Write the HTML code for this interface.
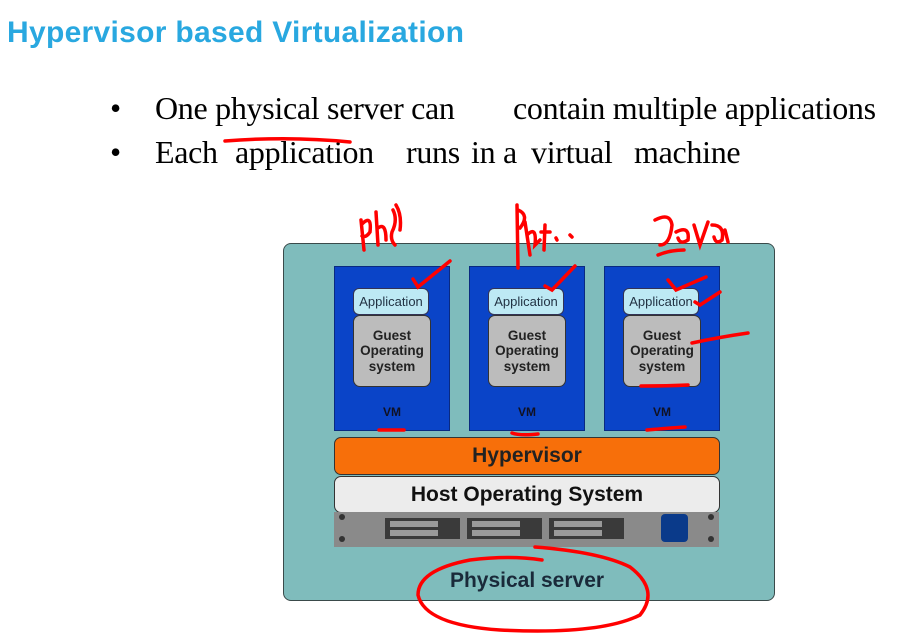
<!DOCTYPE html>
<html><head><meta charset="utf-8"><style>
body{margin:0;width:921px;height:643px;background:#fff;position:relative;overflow:hidden;font-family:"Liberation Sans",sans-serif}
.a{position:absolute}
h1{position:absolute;left:7px;top:16px;margin:0;font:bold 30px "Liberation Sans",sans-serif;letter-spacing:0.3px;color:#29a8e0}
.b{position:absolute;font:32px "Liberation Serif",serif;color:#000;white-space:pre;line-height:34px;letter-spacing:-0.3px}
.vm{position:absolute;top:266px;width:114px;height:163px;background:#0a44c8;border:1px solid #0a2a80}
.app{position:absolute;left:18px;top:21px;width:74px;height:25px;background:#bde9f4;border:1px solid #335;border-radius:6px;font-size:13px;color:#234;text-align:center;line-height:25px}
.gos{position:absolute;left:18px;top:48px;width:76px;height:70px;background:#bcbcbc;border:1px solid #333;border-radius:7px;font-weight:bold;font-size:13.5px;font-family:"Liberation Sans",sans-serif;line-height:15.5px;color:#222;text-align:center;display:flex;align-items:center;justify-content:center}
.vl{position:absolute;left:0;width:100%;top:138px;text-align:center;font-weight:bold;font-size:12px;color:#112}
.bar{position:absolute;left:334px;width:384px;border:1.5px solid #333;border-radius:7px;text-align:center;font-family:"Liberation Sans",sans-serif;font-weight:bold;color:#222}
</style></head><body>
<h1>Hypervisor based Virtualization</h1>
<div class="b" style="left:110px;top:91px">•</div>
<div class="b" style="left:155px;top:91px">One physical server can</div>
<div class="b" style="left:513px;top:91px">contain multiple applications</div>
<div class="b" style="left:110px;top:135px">•</div>
<div class="b" style="left:155px;top:135px">Each</div>
<div class="b" style="left:235px;top:135px">application</div>
<div class="b" style="left:406px;top:135px">runs</div>
<div class="b" style="left:471px;top:135px">in a</div>
<div class="b" style="left:531px;top:135px">virtual</div>
<div class="b" style="left:634px;top:135px">machine</div>

<div class="a" style="left:283px;top:243px;width:490px;height:356px;background:#7fbcbc;border:1.5px solid #3a4a4a;border-radius:8px"></div>
<div class="vm" style="left:334px"><div class="app">Application</div><div class="gos">Guest<br>Operating<br>system</div><div class="vl">VM</div></div>
<div class="vm" style="left:469px"><div class="app">Application</div><div class="gos">Guest<br>Operating<br>system</div><div class="vl">VM</div></div>
<div class="vm" style="left:604px"><div class="app">Application</div><div class="gos">Guest<br>Operating<br>system</div><div class="vl">VM</div></div>
<div class="bar" style="top:437px;height:36px;line-height:36px;background:#f76f0a;font-size:21px">Hypervisor</div>
<div class="bar" style="top:476px;height:35px;line-height:35px;background:#ececec;font-size:21px;color:#111">Host Operating System</div>
<svg class="a" style="left:0;top:0" width="921" height="643">
<rect x="334" y="512" width="385" height="35" fill="#8a8a8a"/>
<g fill="#3a3a3a"><rect x="385" y="518" width="75" height="21"/><rect x="467" y="518" width="75" height="21"/><rect x="549" y="518" width="75" height="21"/></g>
<g fill="#9a9a9a"><rect x="390" y="521" width="48" height="6"/><rect x="390" y="530" width="48" height="6"/><rect x="472" y="521" width="48" height="6"/><rect x="472" y="530" width="48" height="6"/><rect x="554" y="521" width="48" height="6"/><rect x="554" y="530" width="48" height="6"/></g>
<rect x="661" y="514" width="27" height="28" rx="4" fill="#0a3a8a"/>
<g fill="#333"><circle cx="342" cy="517" r="3"/><circle cx="342" cy="539" r="3"/><circle cx="711" cy="517" r="3"/><circle cx="711" cy="539" r="3"/></g>
<text x="527" y="587" text-anchor="middle" font-family="Liberation Sans" font-weight="bold" font-size="21" fill="#1a2a3a">Physical server</text>
<g fill="none" stroke="#f00" stroke-width="3.5" stroke-linecap="round">
<path d="M225 141 Q290 136 350 142"/>
<path d="M361 220 L364 250 M362 224 Q372 214 370 232 Q366 238 362 236 M376 212 L378 245 M378 228 Q386 222 386 240 M393 210 Q398 220 392 232 Q390 240 395 245 M396 205 Q402 215 400 230"/>
<path d="M413 279 L418 287 L450 261"/><path d="M545 286 L552 290 L575 266"/><path d="M668 280 L676 290 L706 277"/><path d="M695 302 L700 305 L720 292"/><path d="M692 343 Q720 337 748 333"/>
<path d="M517 205 L518 268 M518 210 Q530 215 520 228 M525 222 L530 255 M527 235 Q537 225 535 245 L540 240 M545 225 L544 250 M541 232 L550 232 M556 238 L557 240 M570 235 L572 237"/>
<path d="M655 220 Q670 212 672 225 Q670 245 660 245 M676 232 Q690 225 688 240 Q680 245 678 238 M694 225 L700 245 L708 222 M712 225 Q725 225 722 240 Q716 245 714 237 M725 230 L728 242 M658 255 Q670 250 684 250"/>
<path d="M379 430 L404 430"/><path d="M512 433 Q520 436 538 434"/><path d="M647 430 Q670 428 685 427"/><path d="M641 386 Q668 386 688 385"/>
<path d="M535 547 Q600 552 630 567 Q660 590 640 615 Q600 635 500 630 Q425 625 418 595 Q418 570 470 560 Q510 555 542 560"/>
</g></svg>
</body></html>
